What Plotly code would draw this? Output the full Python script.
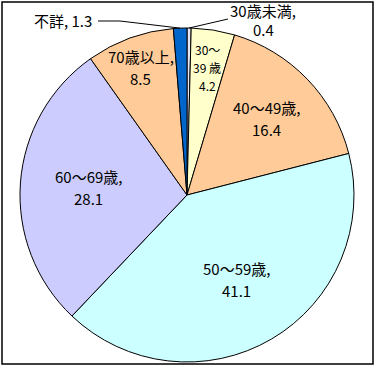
import math
import plotly.graph_objects as go

labels = ["30歳未満", "30〜39歳", "40〜49歳", "50〜59歳", "60〜69歳", "70歳以上", "不詳"]
values = [0.4, 4.2, 16.4, 41.1, 28.1, 8.5, 1.3]
colors = ["#E6E6F5", "#FFFFCC", "#FFCC99", "#CCFFFF", "#CCCCFF", "#FFCC99", "#0066CC"]
label_lines = [
    ["30歳未満,", "0.4"],
    ["30〜", "39 歳", "4.2"],
    ["40〜49歳,", "16.4"],
    ["50〜59歳,", "41.1"],
    ["60〜69歳,", "28.1"],
    ["70歳以上,", "8.5"],
    ["不詳, 1.3"],
]

W, H = 376, 367
CX, CY, R = 187, 195, 167
FONT = dict(family="Noto Sans CJK JP", size=14, color="black")


def paper(x, y):
    return x / W, 1 - y / H


total = sum(values)
mids = []
acc = 0.0
for v in values:
    mids.append((acc + v / 2) / total * 2 * math.pi)
    acc += v


def polar(angle, rfrac):
    return CX + R * rfrac * math.sin(angle), CY - R * rfrac * math.cos(angle)


fig = go.Figure(go.Pie(
    labels=labels, values=values, sort=False, direction="clockwise", rotation=0,
    marker=dict(colors=colors, line=dict(color="black", width=1)),
    textinfo="none", hoverinfo="label+value", showlegend=False,
    domain=dict(x=[(CX - R) / W, (CX + R) / W], y=[1 - (CY + R) / H, 1 - (CY - R) / H]),
))

annotations = []


def add_lines(x, y, lines, spacing, size=14):
    n = len(lines)
    px, py = paper(x, y)
    for i, t in enumerate(lines):
        off = (i - (n - 1) / 2) * spacing
        annotations.append(dict(x=px, y=py, xref="paper", yref="paper", text=t,
                                showarrow=False, yshift=-off,
                                font=dict(FONT, size=size), xanchor="center", yanchor="middle"))


rfracs = [None, 0.77, 0.66, 0.59, 0.59, 0.81, None]
for i in range(len(values)):
    if rfracs[i] is None:
        continue
    x, y = polar(mids[i], rfracs[i])
    if len(label_lines[i]) == 3:
        add_lines(x, y, label_lines[i], 18, 12)
    else:
        add_lines(x, y, label_lines[i], 22, 15)

# outside labels
add_lines(263, 20, label_lines[0], 19, 15)
add_lines(63, 21, label_lines[6], 19, 15)

shapes = []
# leader lines
ex, ey = polar(mids[0], 1.0)
x0, y0 = paper(ex, ey)
x1, y1 = paper(228, 19)
shapes.append(dict(type="line", xref="paper", yref="paper", x0=x0, y0=y0, x1=x1, y1=y1,
                   line=dict(color="black", width=1)))
ex, ey = polar(mids[6], 1.0)
x0, y0 = paper(ex, ey)
xa, ya = paper(120, 21)
xb, yb = paper(98, 21)
shapes.append(dict(type="path", xref="paper", yref="paper",
                   path=f"M {x0} {y0} L {xa} {ya} L {xb} {yb}",
                   line=dict(color="black", width=1)))
# frame
fx0, fy0 = paper(2, 364)
fx1, fy1 = paper(373, 2)
shapes.append(dict(type="rect", xref="paper", yref="paper", x0=fx0, y0=fy0, x1=fx1, y1=fy1,
                   line=dict(color="black", width=1.5)))

fig.update_layout(width=W, height=H, margin=dict(l=0, r=0, t=0, b=0),
                  paper_bgcolor="white", plot_bgcolor="white",
                  annotations=annotations, shapes=shapes, font=FONT)
fig.write_html("out.html", config={"displayModeBar": False},
               post_script="document.body.style.margin='0';document.body.style.overflow='hidden';")
